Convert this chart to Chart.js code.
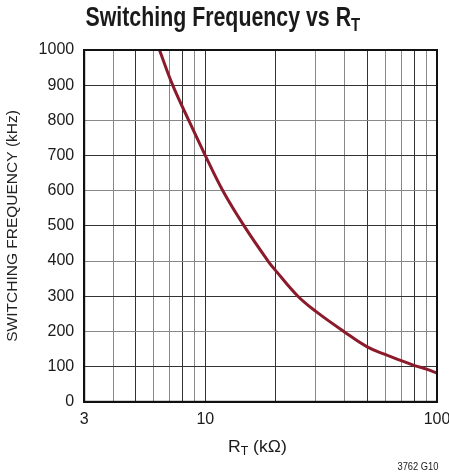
<!DOCTYPE html>
<html>
<head>
<meta charset="utf-8">
<script src="https://cdn.jsdelivr.net/npm/chart.js@4.4.1/dist/chart.umd.min.js"></script>
<style>
  html, body { margin: 0; padding: 0; background: #fff; }
  #wrap { position: relative; width: 449px; height: 472px; overflow: hidden; }
  canvas { position: absolute; left: 0; top: 0; }
  .lbl { position: absolute; white-space: nowrap; color: #1a1a1a; font-family: "Liberation Sans", Arial, sans-serif; }
  #title { font-weight: bold; font-size: 27px; line-height: 27px; top: 3.5px; }
  #xlabel { font-size: 17px; line-height: 17px; top: 438px; }
  #note { font-size: 10px; line-height: 10px; top: 462px; }
  sub { font-size: 0.7em; vertical-align: -0.28em; line-height: 0; }
</style>
</head>
<body>
<div id="wrap">
  <canvas id="c" width="449" height="472"></canvas>
  <div class="lbl" id="title">Switching Frequency vs R<sub>T</sub></div>
  <div class="lbl" id="xlabel">R<sub>T</sub> (kΩ)</div>
  <div class="lbl" id="note">3762 G10</div>
</div>
<script>
// Data
const rtValues = [6.34, 7.23, 8.48, 10, 11.9, 14.7, 18.65, 20, 25.1, 30, 39.6, 50, 60, 70, 80, 90, 100];
const freqValues = [1000, 900, 800, 700, 600, 500, 400, 375, 300, 257, 200, 156, 134, 117, 103, 93, 81.5];
const xTickValues = [3, 4, 5, 6, 7, 8, 9, 10, 20, 30, 40, 50, 60, 70, 80, 90, 100];
const xTickLabels = ['3', '', '', '', '', '', '', '10', '', '', '', '', '', '', '', '', '100'];
const yTickValues = [0, 100, 200, 300, 400, 500, 600, 700, 800, 900, 1000];

// Place and condense the HTML text labels to match the reference
function place(id, cx, width) {
  const el = document.getElementById(id);
  const w = el.offsetWidth;
  el.style.left = (cx - w / 2) + 'px';
  el.style.transform = 'scaleX(' + (width / w) + ')';
  el.style.transformOrigin = '50% 50%';
}
place('title', 222.5, 275);
place('xlabel', 257.5, 59);
place('note', 417.5, 41);

const points = rtValues.map((x, i) => ({ x: x, y: freqValues[i] }));
const darkX = new Set([5, 8, 10, 20, 50, 80]);

new Chart(document.getElementById('c'), {
  type: 'line',
  data: {
    datasets: [{
      data: points,
      borderColor: '#8b1a2b',
      borderWidth: 3,
      pointRadius: 0,
      tension: 0.4,
      fill: false
    }]
  },
  options: {
    responsive: false,
    animation: false,
    plugins: { legend: { display: false }, tooltip: { enabled: false } },
    layout: { padding: { top: 50, right: 12, bottom: 35, left: 0 } },
    scales: {
      x: {
        type: 'logarithmic',
        min: 3, max: 100,
        afterBuildTicks: (axis) => { axis.ticks = xTickValues.map(v => ({ value: v })); },
        afterFit: (s) => { s.paddingLeft = 0; s.paddingRight = 0; },
        ticks: {
          autoSkip: false, maxRotation: 0, padding: 8,
          color: '#1a1a1a',
          font: { family: 'Liberation Sans', size: 16 },
          callback: (v) => { const i = xTickValues.indexOf(v); return i >= 0 ? xTickLabels[i] : ''; }
        },
        grid: {
          drawTicks: false,
          color: (ctx) => (ctx.tick && darkX.has(ctx.tick.value)) ? '#333' : '#888',
          lineWidth: 1
        },
        border: { color: '#111', width: 2 }
      },
      y: {
        min: 0, max: 1000,
        afterBuildTicks: (axis) => { axis.ticks = yTickValues.map(v => ({ value: v })); },
        afterFit: (s) => { s.paddingTop = 0; s.paddingBottom = 0; },
        title: {
          display: true, text: 'SWITCHING FREQUENCY (kHz)', color: '#222',
          font: { family: 'Liberation Sans', size: 15.5 },
          padding: { top: 3, bottom: 7 }
        },
        ticks: {
          padding: 10, color: '#1a1a1a',
          font: { family: 'Liberation Sans', size: 16 },
          callback: (v) => String(v)
        },
        grid: {
          drawTicks: false,
          color: (ctx) => (ctx.tick && (ctx.tick.value / 100) % 2 === 1) ? '#333' : '#888',
          lineWidth: 1
        },
        border: { color: '#111', width: 2 }
      }
    }
  },
  plugins: [{
    id: 'frame',
    afterDraw(chart) {
      const a = chart.chartArea, ctx = chart.ctx;
      ctx.save();
      ctx.strokeStyle = '#111';
      ctx.lineWidth = 2;
      ctx.strokeRect(a.left, a.top, a.right - a.left, a.bottom - a.top);
      ctx.restore();
    }
  }]
});
</script>
</body>
</html>
